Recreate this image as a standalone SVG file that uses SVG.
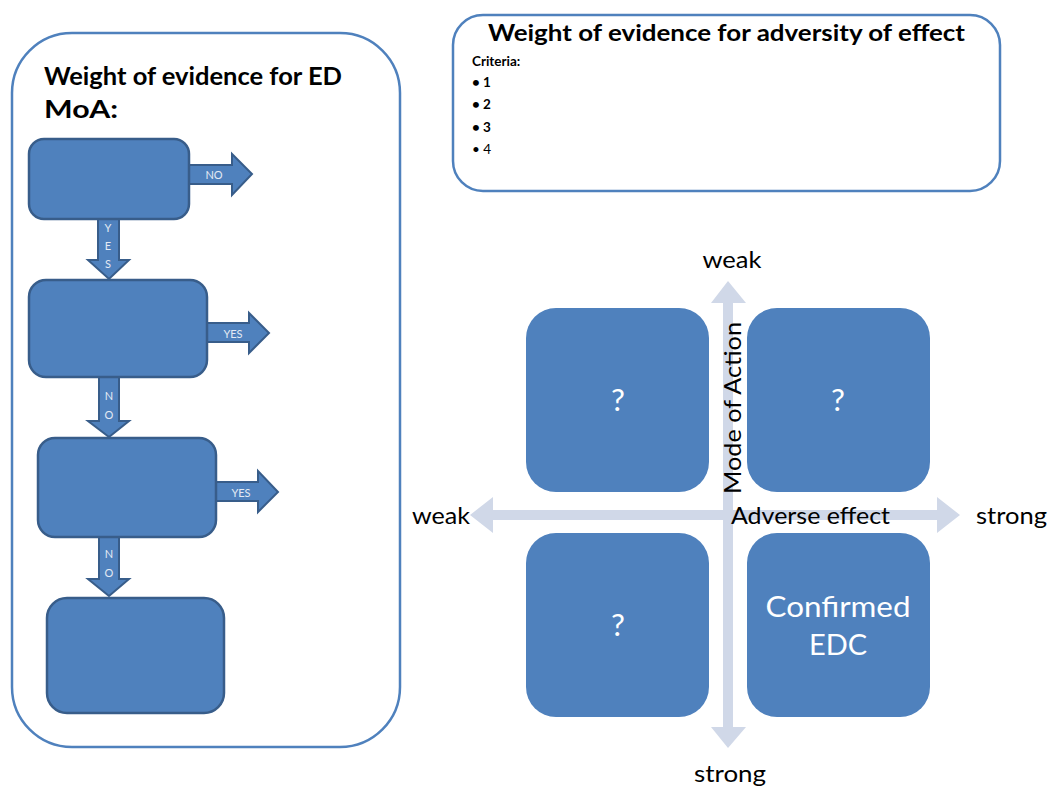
<svg xmlns="http://www.w3.org/2000/svg" width="1051" height="787" viewBox="0 0 1051 787">
<style>
.panel{fill:#fff;stroke:#4F81BD;stroke-width:2.5}
.fbox{fill:#4F81BD;stroke:#385D8A;stroke-width:2.5}
.farr{fill:#4F81BD;stroke:#385D8A;stroke-width:2;stroke-linejoin:miter}
.qbox{fill:#4F81BD}
.axis{fill:#D0D8E8}
.t{font-family:Lato,"Liberation Sans",sans-serif;fill:#000}
.lbl{font-family:Lato,"Liberation Sans",sans-serif;fill:#E3EAF4;font-size:11px;text-anchor:middle}
.qt{font-family:Lato,"Liberation Sans",sans-serif;fill:#fff;text-anchor:middle}
</style>

<g id="panel-moa">
<rect class="panel" x="12" y="33" width="388" height="714" rx="60"/>
<text class="t" x="44" y="85" font-size="24" font-weight="bold" textLength="298" lengthAdjust="spacingAndGlyphs">Weight of evidence for ED</text>
<text class="t" x="44" y="118" font-size="24" font-weight="bold" textLength="74" lengthAdjust="spacingAndGlyphs">MoA:</text>
</g>

<g id="panel-adversity">
<rect class="panel" x="453" y="15" width="547" height="176" rx="30"/>
<text class="t" x="726.5" y="41" font-size="23" font-weight="bold" text-anchor="middle" textLength="477" lengthAdjust="spacingAndGlyphs">Weight of evidence for adversity of effect</text>
<text class="t" x="472" y="66" font-size="13.5" font-weight="bold">Criteria:</text>
<text class="t" x="472" y="87" font-size="13.5" font-weight="bold">• 1</text>
<text class="t" x="472" y="109" font-size="13.5" font-weight="bold">• 2</text>
<text class="t" x="472" y="132" font-size="13.5" font-weight="bold">• 3</text>
<text class="t" x="472" y="154" font-size="13.5" fill="#000">• 4</text>
</g>

<g id="connectors">
<polygon class="farr" points="186,165 232,165 232,154 252,174 232,195 232,184 186,184"/>
<polygon class="farr" points="98,216 119,216 119,260 129,260 109,279 88,260 98,260"/>
<polygon class="farr" points="204,323 249,323 249,313 269,333 249,353 249,342 204,342"/>
<polygon class="farr" points="99,374 119,374 119,421 129,421 109,437 88,421 99,421"/>
<polygon class="farr" points="213,482 258,482 258,471 278,492 258,512 258,501 213,501"/>
<polygon class="farr" points="99,534 119,534 119,579 129,579 109,596 88,579 99,579"/>
<text class="lbl" x="214" y="179">NO</text>
<text class="lbl" x="108" y="232" font-size="12">Y</text>
<text class="lbl" x="108" y="250" font-size="12">E</text>
<text class="lbl" x="108" y="268" font-size="12">S</text>
<text class="lbl" x="233" y="338">YES</text>
<text class="lbl" x="109" y="400" font-size="12">N</text>
<text class="lbl" x="109" y="419" font-size="12">O</text>
<text class="lbl" x="241" y="497">YES</text>
<text class="lbl" x="109" y="558" font-size="12">N</text>
<text class="lbl" x="109" y="577" font-size="12">O</text>
<polygon class="axis" points="470,515 493,497 493,510 937,510 937,497 960,515 937,533 937,520 493,520 493,533"/>
<polygon class="axis" points="728,281 746,303 733,303 733,727 746,727 728,748 711,727 723,727 723,303 711,303"/>
</g>

<g id="step1"><rect class="fbox" x="29" y="139" width="160" height="80" rx="15"/></g>
<g id="step2"><rect class="fbox" x="29" y="280" width="178" height="97" rx="17"/></g>
<g id="step3"><rect class="fbox" x="38" y="438" width="178" height="99" rx="17"/></g>
<g id="step4"><rect class="fbox" x="47" y="598" width="177" height="115" rx="20"/></g>

<g id="q-top-left"><rect class="qbox" x="526" y="308" width="183" height="184" rx="30"/><text class="qt" x="618" y="411" font-size="31">?</text></g>
<g id="q-top-right"><rect class="qbox" x="747" y="308" width="183" height="184" rx="30"/><text class="qt" x="838" y="411" font-size="31">?</text></g>
<g id="q-bottom-left"><rect class="qbox" x="526" y="533" width="183" height="184" rx="30"/><text class="qt" x="618" y="636" font-size="31">?</text></g>
<g id="q-bottom-right"><rect class="qbox" x="747" y="533" width="183" height="184" rx="30"/>
<text class="qt" x="838" y="617" font-size="29" textLength="145" lengthAdjust="spacingAndGlyphs">Confirmed</text>
<text class="qt" x="838" y="655" font-size="29">EDC</text></g>

<g id="axis-labels">
<text class="t" x="732" y="268" font-size="23" text-anchor="middle" textLength="59" lengthAdjust="spacingAndGlyphs">weak</text>
<text class="t" x="730" y="782" font-size="23" text-anchor="middle" textLength="72" lengthAdjust="spacingAndGlyphs">strong</text>
<text class="t" x="412" y="524" font-size="23" textLength="58" lengthAdjust="spacingAndGlyphs">weak</text>
<text class="t" x="976" y="524" font-size="23" textLength="71" lengthAdjust="spacingAndGlyphs">strong</text>
<text class="t" x="731" y="524" font-size="23" textLength="159" lengthAdjust="spacingAndGlyphs">Adverse effect</text>
<text class="t" transform="translate(741,408) rotate(-90)" font-size="23" text-anchor="middle" textLength="172" lengthAdjust="spacingAndGlyphs">Mode of Action</text>
</g>
</svg>
